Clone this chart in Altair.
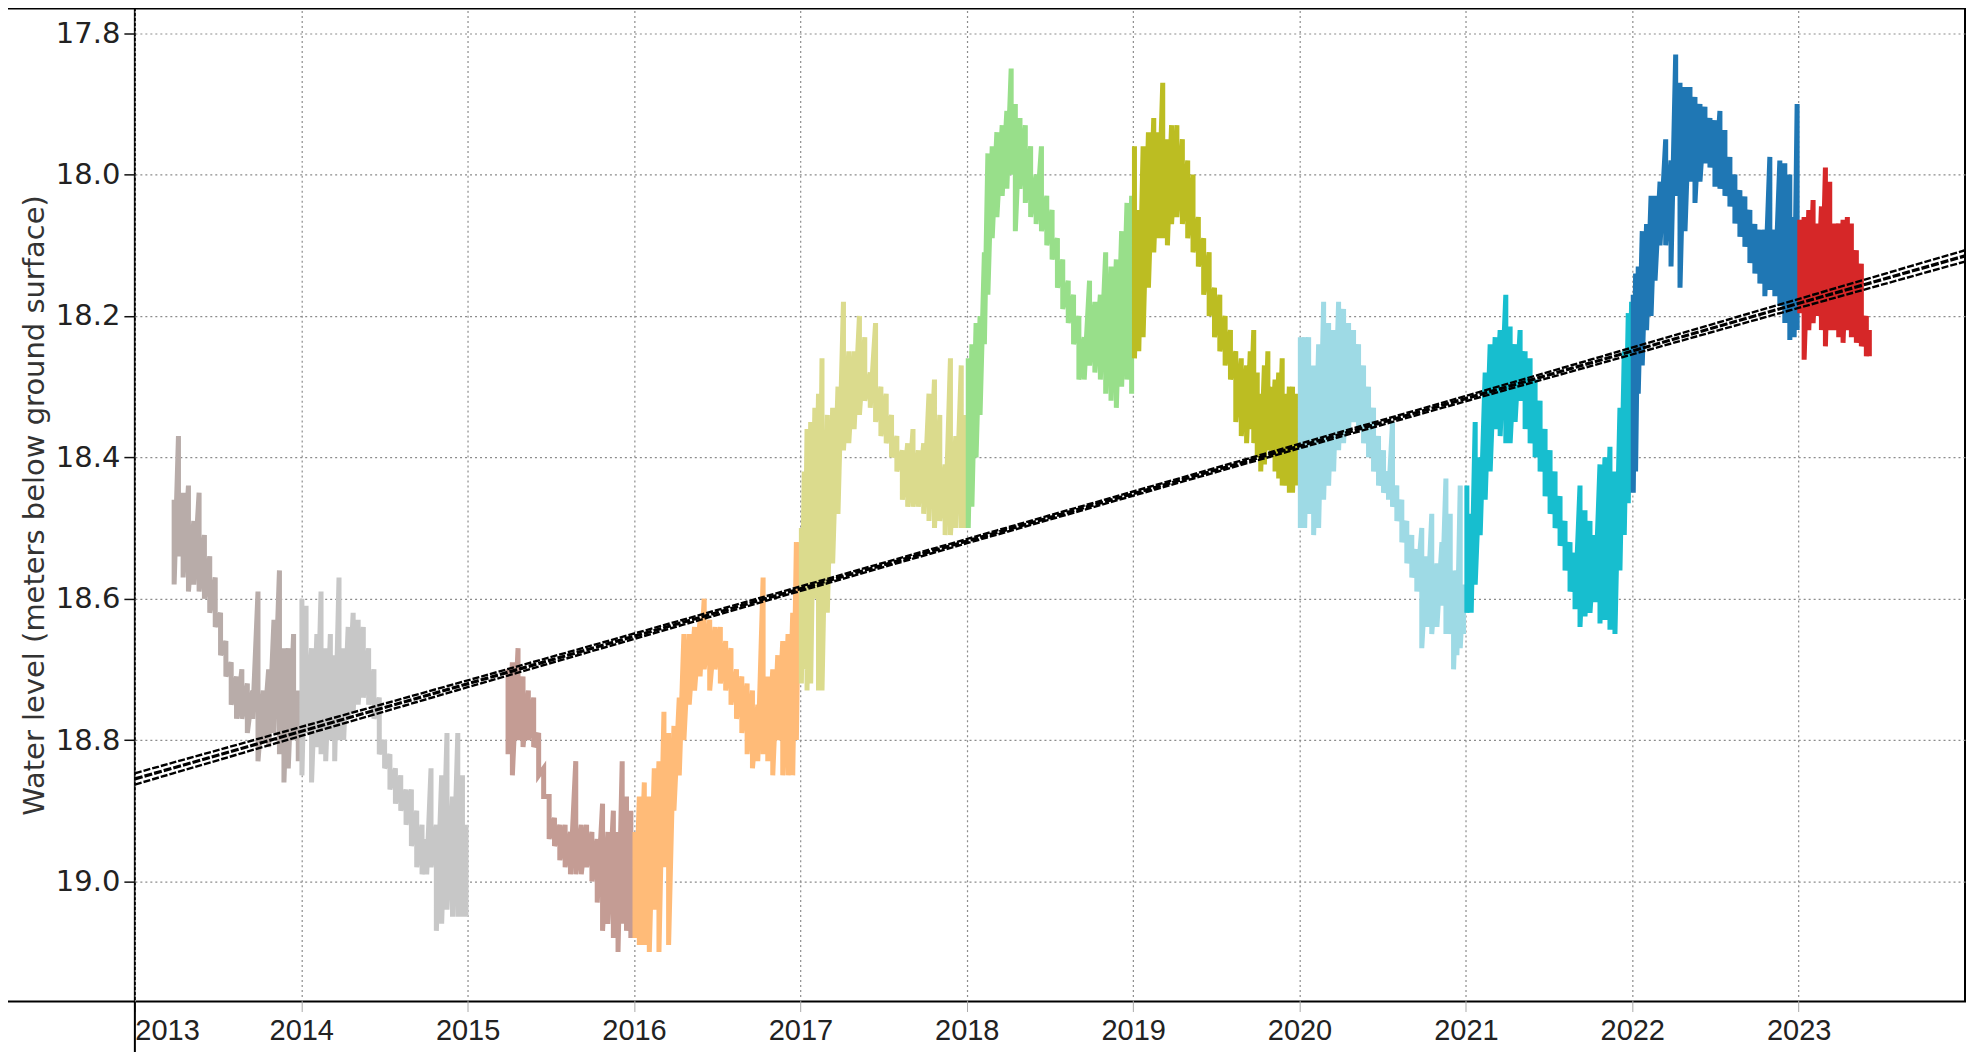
import altair as alt
import pandas as pd

# ---------------- data (decimal year, upper reading, lower reading) ----------------
years = [2013, 2014, 2015, 2016, 2017, 2018, 2019, 2020, 2021, 2022, 2023]
colors = ["#b8aca9", "#c7c7c7", "#c49c94", "#ffbb78", "#dbdb8d", "#98df8a",
          "#bcbd22", "#9edae5", "#17becf", "#1f77b4", "#d62728"]

w2013 = [
    (2013.236, 18.46, 18.58), (2013.262, 18.37, 18.54), (2013.290, 18.45, 18.57),
    (2013.322, 18.44, 18.59), (2013.354, 18.49, 18.58), (2013.386, 18.45, 18.59),
    (2013.418, 18.51, 18.60), (2013.450, 18.54, 18.62), (2013.483, 18.57, 18.64),
    (2013.515, 18.62, 18.68), (2013.547, 18.66, 18.71), (2013.579, 18.69, 18.75),
    (2013.611, 18.71, 18.77), (2013.643, 18.70, 18.77), (2013.676, 18.72, 18.79),
    (2013.708, 18.73, 18.77), (2013.740, 18.59, 18.83), (2013.772, 18.73, 18.80),
    (2013.804, 18.70, 18.81), (2013.836, 18.63, 18.79), (2013.869, 18.56, 18.82),
    (2013.896, 18.67, 18.86), (2013.922, 18.67, 18.84), (2013.954, 18.65, 18.80),
    (2013.982, 18.73, 18.83),
]
w2014 = [
    (2014.004, 18.60, 18.85), (2014.029, 18.61, 18.79), (2014.062, 18.67, 18.86),
    (2014.094, 18.65, 18.81), (2014.119, 18.59, 18.82), (2014.147, 18.67, 18.83),
    (2014.175, 18.65, 18.80), (2014.201, 18.68, 18.83), (2014.227, 18.57, 18.80),
    (2014.255, 18.67, 18.80), (2014.282, 18.64, 18.77), (2014.312, 18.62, 18.76),
    (2014.342, 18.63, 18.75), (2014.373, 18.64, 18.74), (2014.405, 18.67, 18.75),
    (2014.437, 18.70, 18.77), (2014.469, 18.74, 18.82), (2014.501, 18.80, 18.84),
    (2014.533, 18.82, 18.87), (2014.566, 18.84, 18.89), (2014.598, 18.85, 18.90),
    (2014.630, 18.87, 18.92), (2014.662, 18.87, 18.95), (2014.694, 18.90, 18.98),
    (2014.726, 18.92, 18.99), (2014.754, 18.94, 18.99), (2014.780, 18.84, 18.98),
    (2014.812, 18.92, 19.07), (2014.844, 18.85, 19.06), (2014.876, 18.79, 19.04),
    (2014.909, 18.88, 19.05), (2014.941, 18.79, 19.05), (2014.969, 18.85, 19.05),
    (2014.990, 18.92, 19.05),
]
w2015 = [
    (2015.243, 18.70, 18.82), (2015.269, 18.69, 18.85), (2015.303, 18.67, 18.80),
    (2015.333, 18.71, 18.81), (2015.365, 18.73, 18.80), (2015.397, 18.74, 18.81),
    (2015.427, 18.79, 18.85), (2015.457, 18.84, 18.88), (2015.490, 18.88, 18.94),
    (2015.522, 18.91, 18.95), (2015.554, 18.92, 18.97), (2015.586, 18.92, 18.98),
    (2015.618, 18.93, 18.99), (2015.650, 18.83, 18.99), (2015.683, 18.92, 18.99),
    (2015.715, 18.92, 18.98), (2015.747, 18.93, 19.00), (2015.779, 18.94, 19.03),
    (2015.811, 18.89, 19.07), (2015.843, 18.93, 19.06), (2015.876, 18.90, 19.08),
    (2015.904, 18.93, 19.10), (2015.929, 18.83, 19.06), (2015.955, 18.88, 19.07),
    (2015.981, 18.90, 19.08),
]
w2016 = [
    (2016.006, 18.93, 19.08), (2016.032, 18.88, 19.09), (2016.062, 18.86, 19.09),
    (2016.092, 18.88, 19.10), (2016.122, 18.84, 19.04), (2016.150, 18.83, 19.10),
    (2016.180, 18.76, 18.98), (2016.208, 18.79, 19.09), (2016.240, 18.78, 18.90),
    (2016.272, 18.74, 18.85), (2016.300, 18.65, 18.80), (2016.332, 18.65, 18.75),
    (2016.364, 18.64, 18.73), (2016.397, 18.63, 18.71), (2016.422, 18.60, 18.70),
    (2016.455, 18.63, 18.73), (2016.487, 18.64, 18.70), (2016.519, 18.64, 18.72),
    (2016.551, 18.66, 18.73), (2016.583, 18.67, 18.75), (2016.616, 18.70, 18.77),
    (2016.648, 18.71, 18.79), (2016.680, 18.72, 18.82), (2016.712, 18.73, 18.84),
    (2016.744, 18.75, 18.83), (2016.776, 18.57, 18.82), (2016.804, 18.71, 18.83),
    (2016.834, 18.70, 18.85), (2016.864, 18.68, 18.80), (2016.894, 18.66, 18.85),
    (2016.926, 18.65, 18.85), (2016.954, 18.62, 18.85), (2016.976, 18.52, 18.80),
    (2016.993, 18.52, 18.70),
]
w2017 = [
    (2017.006, 18.50, 18.72), (2017.023, 18.42, 18.70), (2017.040, 18.36, 18.73),
    (2017.062, 18.35, 18.72), (2017.087, 18.33, 18.60), (2017.109, 18.31, 18.73),
    (2017.130, 18.26, 18.73), (2017.162, 18.34, 18.62), (2017.194, 18.33, 18.55),
    (2017.226, 18.30, 18.48), (2017.259, 18.18, 18.39), (2017.291, 18.25, 18.38),
    (2017.323, 18.25, 18.36), (2017.355, 18.20, 18.34), (2017.387, 18.23, 18.32),
    (2017.420, 18.28, 18.33), (2017.452, 18.21, 18.35), (2017.484, 18.30, 18.37),
    (2017.516, 18.31, 18.38), (2017.548, 18.34, 18.40), (2017.580, 18.37, 18.42),
    (2017.613, 18.39, 18.46), (2017.645, 18.38, 18.47), (2017.677, 18.36, 18.47),
    (2017.709, 18.39, 18.47), (2017.741, 18.38, 18.48), (2017.773, 18.31, 18.49),
    (2017.806, 18.29, 18.50), (2017.838, 18.34, 18.49), (2017.870, 18.41, 18.51),
    (2017.902, 18.26, 18.51), (2017.934, 18.37, 18.50), (2017.967, 18.27, 18.50),
    (2017.992, 18.34, 18.50),
]
w2018 = [
    (2018.009, 18.26, 18.50), (2018.031, 18.24, 18.47), (2018.056, 18.21, 18.40),
    (2018.080, 18.20, 18.34), (2018.106, 18.11, 18.24), (2018.127, 17.97, 18.17),
    (2018.153, 17.96, 18.09), (2018.181, 17.94, 18.06), (2018.213, 17.93, 18.03),
    (2018.241, 17.91, 18.02), (2018.267, 17.85, 18.00), (2018.292, 17.90, 18.08),
    (2018.320, 17.92, 18.02), (2018.352, 17.93, 18.04), (2018.384, 17.96, 18.06),
    (2018.417, 18.00, 18.07), (2018.449, 17.96, 18.08), (2018.481, 18.03, 18.10),
    (2018.513, 18.05, 18.12), (2018.545, 18.09, 18.16), (2018.577, 18.12, 18.19),
    (2018.610, 18.15, 18.21), (2018.642, 18.17, 18.24), (2018.674, 18.20, 18.29),
    (2018.706, 18.23, 18.29), (2018.738, 18.15, 18.27), (2018.770, 18.18, 18.28),
    (2018.803, 18.17, 18.29), (2018.835, 18.11, 18.31), (2018.867, 18.13, 18.32),
    (2018.899, 18.12, 18.33), (2018.931, 18.08, 18.30), (2018.963, 18.04, 18.29),
    (2018.991, 18.03, 18.31),
]
w2019 = [
    (2019.008, 17.96, 18.26), (2019.034, 18.05, 18.25), (2019.060, 17.96, 18.23),
    (2019.092, 17.94, 18.16), (2019.124, 17.92, 18.11), (2019.150, 17.94, 18.09),
    (2019.178, 17.87, 18.09), (2019.206, 17.95, 18.10), (2019.231, 17.93, 18.07),
    (2019.263, 17.93, 18.06), (2019.296, 17.95, 18.07), (2019.328, 17.98, 18.09),
    (2019.360, 18.00, 18.11), (2019.392, 18.06, 18.13), (2019.424, 18.09, 18.17),
    (2019.457, 18.11, 18.20), (2019.489, 18.16, 18.23), (2019.521, 18.17, 18.25),
    (2019.553, 18.20, 18.27), (2019.585, 18.22, 18.29), (2019.617, 18.25, 18.35),
    (2019.650, 18.26, 18.37), (2019.682, 18.27, 18.38), (2019.704, 18.25, 18.36),
    (2019.725, 18.22, 18.38), (2019.746, 18.28, 18.40), (2019.767, 18.31, 18.42),
    (2019.789, 18.27, 18.41), (2019.810, 18.25, 18.39), (2019.832, 18.30, 18.40),
    (2019.853, 18.29, 18.42), (2019.875, 18.28, 18.43), (2019.896, 18.26, 18.44),
    (2019.918, 18.31, 18.44), (2019.939, 18.30, 18.45), (2019.958, 18.30, 18.45),
    (2019.978, 18.31, 18.44),
]
w2020 = [
    (2020.005, 18.23, 18.50), (2020.031, 18.23, 18.50), (2020.055, 18.23, 18.48),
    (2020.085, 18.27, 18.51), (2020.115, 18.24, 18.50), (2020.145, 18.18, 18.46),
    (2020.175, 18.21, 18.44), (2020.205, 18.22, 18.42), (2020.235, 18.18, 18.39),
    (2020.265, 18.19, 18.38), (2020.295, 18.21, 18.36), (2020.325, 18.22, 18.35),
    (2020.355, 18.24, 18.36), (2020.385, 18.27, 18.38), (2020.415, 18.30, 18.40),
    (2020.445, 18.33, 18.42), (2020.475, 18.37, 18.44), (2020.505, 18.39, 18.45),
    (2020.535, 18.42, 18.46), (2020.559, 18.35, 18.47), (2020.585, 18.44, 18.49),
    (2020.615, 18.46, 18.52), (2020.645, 18.49, 18.55), (2020.675, 18.51, 18.57),
    (2020.705, 18.53, 18.59), (2020.735, 18.50, 18.67), (2020.765, 18.54, 18.64),
    (2020.795, 18.48, 18.65), (2020.826, 18.55, 18.64), (2020.856, 18.52, 18.61),
    (2020.880, 18.43, 18.65), (2020.906, 18.48, 18.65), (2020.926, 18.56, 18.70),
    (2020.946, 18.56, 18.68), (2020.966, 18.44, 18.67), (2020.986, 18.58, 18.65),
]
w2021 = [
    (2021.006, 18.44, 18.62), (2021.032, 18.48, 18.62), (2021.056, 18.35, 18.58),
    (2021.086, 18.40, 18.51), (2021.116, 18.28, 18.46), (2021.146, 18.24, 18.42),
    (2021.176, 18.23, 18.36), (2021.206, 18.22, 18.37), (2021.240, 18.17, 18.38),
    (2021.266, 18.215, 18.38), (2021.296, 18.24, 18.35), (2021.326, 18.22, 18.32),
    (2021.356, 18.25, 18.36), (2021.386, 18.26, 18.38), (2021.416, 18.29, 18.40),
    (2021.446, 18.32, 18.42), (2021.476, 18.36, 18.455), (2021.506, 18.39, 18.48),
    (2021.536, 18.42, 18.50), (2021.566, 18.455, 18.525), (2021.596, 18.49, 18.56),
    (2021.626, 18.52, 18.59), (2021.656, 18.535, 18.615), (2021.686, 18.44, 18.64),
    (2021.716, 18.475, 18.625), (2021.746, 18.49, 18.62), (2021.776, 18.51, 18.605),
    (2021.806, 18.41, 18.635), (2021.836, 18.40, 18.63), (2021.866, 18.385, 18.644),
    (2021.896, 18.42, 18.65), (2021.926, 18.33, 18.56), (2021.952, 18.25, 18.51),
    (2021.976, 18.196, 18.465), (2021.996, 18.18, 18.40),
]
w2022 = [
    (2022.006, 18.17, 18.45), (2022.020, 18.14, 18.42), (2022.036, 18.13, 18.31),
    (2022.060, 18.08, 18.27), (2022.086, 18.07, 18.22), (2022.113, 18.03, 18.20),
    (2022.137, 18.03, 18.15), (2022.167, 18.01, 18.10), (2022.201, 17.95, 18.10),
    (2022.233, 17.98, 18.13), (2022.261, 17.83, 18.03), (2022.287, 17.87, 18.16),
    (2022.317, 17.876, 18.08), (2022.347, 17.876, 18.01), (2022.377, 17.89, 18.04),
    (2022.407, 17.90, 18.01), (2022.437, 17.904, 17.984), (2022.467, 17.92, 17.99),
    (2022.497, 17.923, 18.017), (2022.527, 17.91, 18.02), (2022.557, 17.937, 18.03),
    (2022.587, 17.975, 18.045), (2022.617, 18.00, 18.069), (2022.647, 18.022, 18.088),
    (2022.677, 18.031, 18.102), (2022.707, 18.05, 18.125), (2022.737, 18.07, 18.14),
    (2022.767, 18.078, 18.154), (2022.797, 18.078, 18.172), (2022.827, 17.975, 18.163),
    (2022.857, 18.078, 18.172), (2022.887, 17.98, 18.186), (2022.917, 17.984, 18.21),
    (2022.947, 18.00, 18.234), (2022.973, 18.06, 18.23), (2022.991, 17.90, 18.22),
]
w2023 = [
    (2023.007, 18.064, 18.196), (2023.033, 18.06, 18.262), (2023.061, 18.05, 18.22),
    (2023.087, 18.036, 18.21), (2023.113, 18.069, 18.20), (2023.137, 18.045, 18.22),
    (2023.161, 17.99, 18.243), (2023.187, 18.01, 18.22), (2023.213, 18.069, 18.22),
    (2023.241, 18.069, 18.23), (2023.267, 18.064, 18.238), (2023.293, 18.06, 18.22),
    (2023.317, 18.069, 18.23), (2023.347, 18.107, 18.238), (2023.377, 18.126, 18.243),
    (2023.407, 18.20, 18.257), (2023.425, 18.22, 18.257),
]
series = [w2013, w2014, w2015, w2016, w2017, w2018, w2019, w2020, w2021, w2022, w2023]

# linear trend and its confidence band
trend_t = [2013.0, 2024.0]
trend_v = [18.855, 18.115]
band_t = [2013.0, 2015.75, 2018.5, 2021.25, 2024.0]
band_upper = [18.847, 18.666, 18.482, 18.296, 18.107]
band_lower = [18.863, 18.674, 18.488, 18.304, 18.123]

x_ticks = list(range(2013, 2024))
y_ticks = [17.8, 18.0, 18.2, 18.4, 18.6, 18.8, 19.0]

# ---------------- build tables ----------------
rows = []
for yr, data in zip(years, series):
    k = 0
    for t, a, b in data:
        for v in (a, b):
            rows.append({"t": t, "v": v, "year": str(yr), "k": k})
            k += 1
df = pd.DataFrame(rows)

trend_df = pd.DataFrame({"t": trend_t, "v": trend_v})
band_df = pd.DataFrame(
    {"t": band_t + band_t, "v": band_upper + band_lower,
     "side": ["upper"] * len(band_t) + ["lower"] * len(band_t)}
)

W, H = 1832, 994

xs = alt.Scale(domain=[2013, 2024], nice=False, zero=False)
ys = alt.Scale(domain=[17.765, 19.17], reverse=True, nice=False, zero=False)

x_axis = alt.Axis(
    values=x_ticks, format="d", title="", grid=True,
    gridColor="#8c8c8c", gridDash=[2, 3], gridWidth=1.2,
    labelFont="Liberation Sans", labelFontSize=29, labelColor="#222222",
    labelFlush=True, labelPadding=5, tickSize=10, tickColor="#aaaaaa",
    domain=False,
)
y_axis = alt.Axis(
    values=y_ticks, format=".1f", title="Water level (meters below ground surface)",
    grid=True, gridColor="#8c8c8c", gridDash=[2, 3], gridWidth=1.2,
    labelFont="DejaVu Sans", labelFontSize=29, labelColor="#222222",
    labelPadding=4, tickSize=11, tickColor="#111111", tickWidth=1.5,
    domain=False,
    titleFont="DejaVu Sans", titleFontSize=29, titleFontWeight="normal",
    titleColor="#333333", titlePadding=6,
)

X = alt.X("t:Q", scale=xs, axis=x_axis)
Y = alt.Y("v:Q", scale=ys, axis=y_axis)

levels = alt.Chart(df).mark_line(strokeWidth=5, strokeJoin="miter", strokeCap="butt").encode(
    x=X, y=Y,
    color=alt.Color("year:N", scale=alt.Scale(domain=[str(y) for y in years], range=colors), legend=None),
    order=alt.Order("k:Q"),
)

band = alt.Chart(band_df).mark_line(color="black", strokeWidth=2.4, strokeDash=[7, 2], interpolate="natural").encode(
    x=X, y=Y, detail="side:N",
)

trend = alt.Chart(trend_df).mark_line(color="black", strokeWidth=3.2, strokeDash=[8, 2]).encode(x=X, y=Y)

frame_df = pd.DataFrame({"a": [0]})
ext_bottom = alt.Chart(frame_df).mark_rule(color="black", strokeWidth=2).encode(
    x=alt.value(-135), x2=alt.value(0), y=alt.value(H)
)
ext_top = alt.Chart(frame_df).mark_rule(color="black", strokeWidth=2).encode(
    x=alt.value(-135), x2=alt.value(0), y=alt.value(0)
)
ext_left = alt.Chart(frame_df).mark_rule(color="black", strokeWidth=2).encode(
    x=alt.value(0), y=alt.value(H), y2=alt.value(H + 60)
)

chart = alt.layer(levels, band, trend, ext_bottom, ext_top, ext_left).properties(
    width=W, height=H,
    padding={"left": 127, "top": 0, "right": 4, "bottom": 50},
    autosize=alt.AutoSizeParams(type="none"),
    background="white",
).configure_view(stroke="black", strokeWidth=2)

chart.save("out.html", embed_options={"renderer": "svg", "actions": False})
